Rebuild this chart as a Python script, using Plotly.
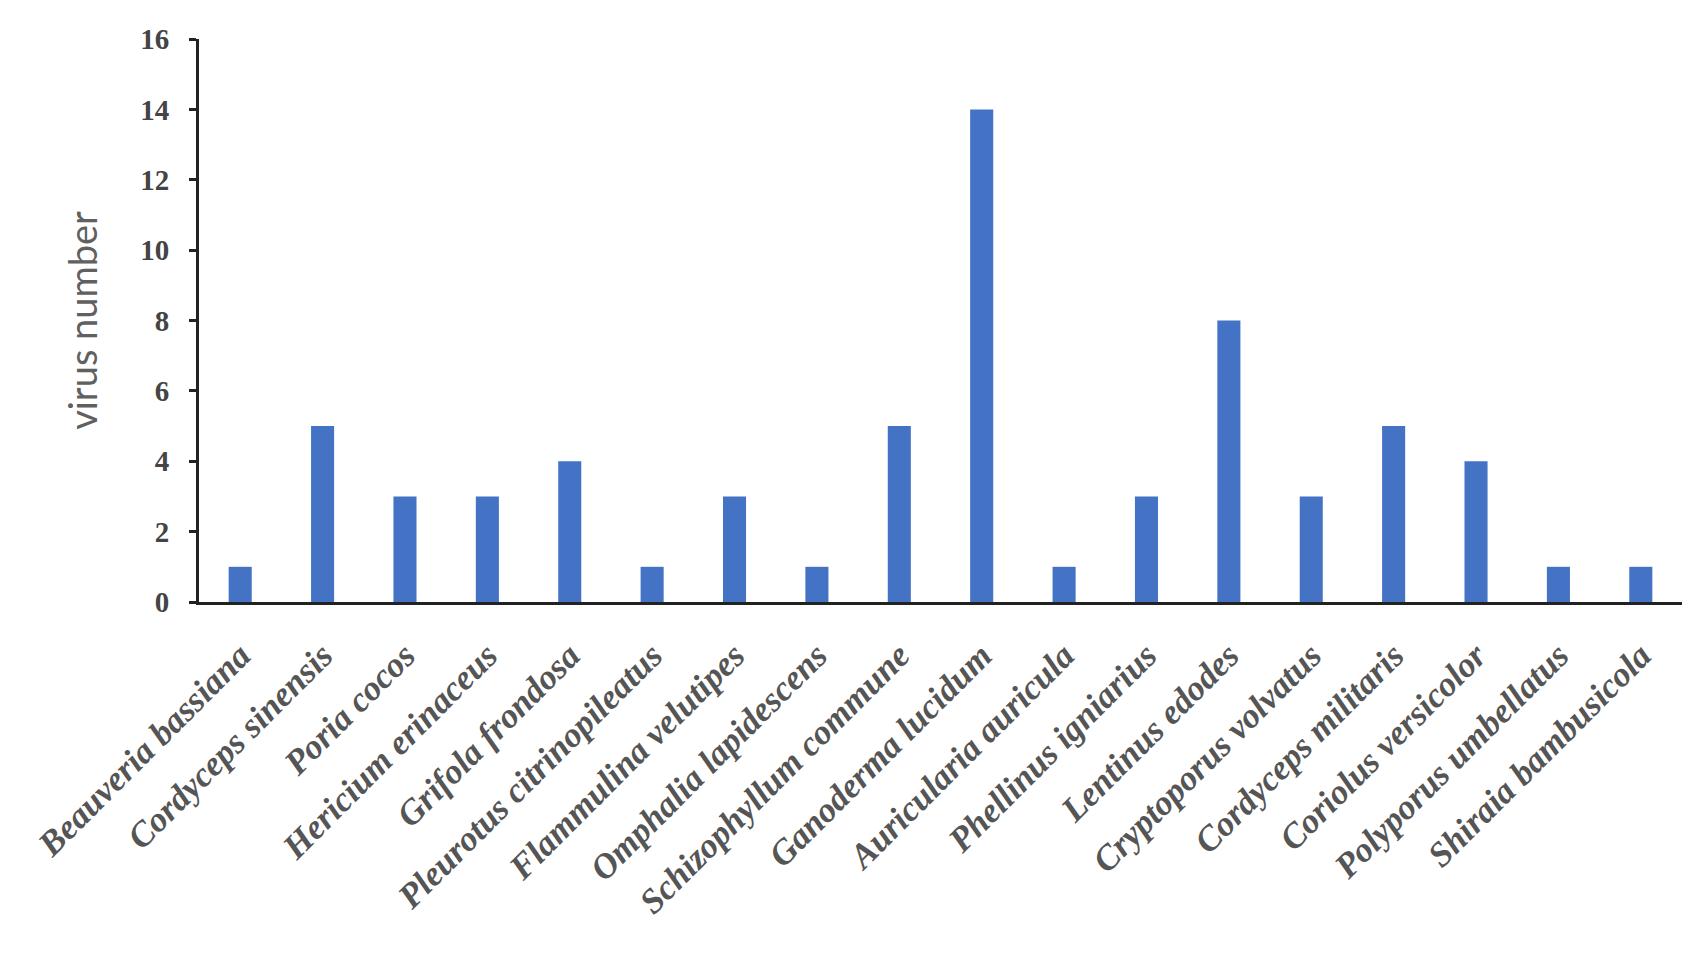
import plotly.graph_objects as go

species = [
    "Beauveria bassiana", "Cordyceps sinensis", "Poria cocos", "Hericium erinaceus",
    "Grifola frondosa", "Pleurotus citrinopileatus", "Flammulina velutipes",
    "Omphalia lapidescens", "Schizophyllum commune", "Ganoderma lucidum",
    "Auricularia auricula", "Phellinus igniarius", "Lentinus edodes",
    "Cryptoporus volvatus", "Cordyceps militaris", "Coriolus versicolor",
    "Polyporus umbellatus", "Shiraia bambusicola",
]
virus_counts = [1, 5, 3, 3, 4, 1, 3, 1, 5, 14, 1, 3, 8, 3, 5, 4, 1, 1]
y_ticks = [0, 2, 4, 6, 8, 10, 12, 14, 16]

fig = go.Figure()
fig.add_trace(go.Bar(
    x=species,
    y=virus_counts,
    marker=dict(color="#4472c4", line=dict(width=0)),
))

fig.update_layout(
    width=1695,
    height=972,
    margin=dict(l=191, r=21, t=31, b=378, autoexpand=False),
    plot_bgcolor="white",
    paper_bgcolor="white",
    bargap=0.72,
    showlegend=False,
    xaxis=dict(
        tickangle=-45,
        tickfont=dict(family="Liberation Serif", size=35, color="#555555",
                      weight="bold", style="italic"),
        ticklabelstandoff=16,
        showline=True, linecolor="#222222", linewidth=3,
        showgrid=False, ticks="",
        automargin=False,
    ),
    yaxis=dict(
        range=[0, 16],
        tickvals=y_ticks,
        tickfont=dict(family="Liberation Serif", size=29, color="#444444", weight="bold"),
        ticklabelstandoff=14,
        showline=True, linecolor="#222222", linewidth=3,
        ticks="outside", ticklen=7, tickwidth=3, tickcolor="#222222",
        showgrid=False, zeroline=False,
        automargin=False,
        title=dict(text="virus number", font=dict(family="Lato", size=38, color="#606060"), standoff=31),
    ),
)

fig.write_html("out.html")
